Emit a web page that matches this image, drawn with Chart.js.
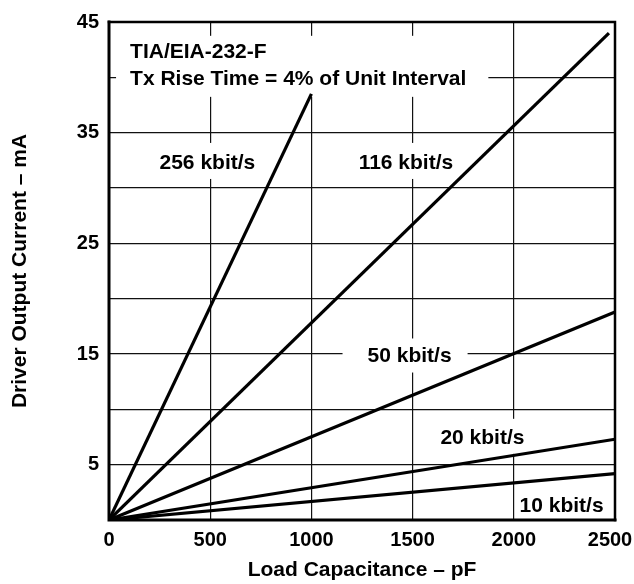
<!DOCTYPE html>
<html><head><meta charset="utf-8">
<script src="https://cdn.jsdelivr.net/npm/chart.js@4.4.1/dist/chart.umd.min.js"></script>
<style>html,body{margin:0;padding:0;background:#fff;overflow:hidden}canvas{display:block}</style>
</head><body>
<canvas id="c" width="634" height="584"></canvas>
<script>
// ---- data ----
const seriesNames = ['256 kbit/s', '116 kbit/s', '50 kbit/s', '20 kbit/s', '10 kbit/s'];
const startCapacitance = [0, 0, 0, 0, 0];
const startCurrent = [0, 0, 0, 0, 0];
const endCapacitance = [1000, 2470, 2500, 2500, 2500];
const endCurrent = [38.5, 44.0, 18.8, 7.3, 4.2];
const xTickLabels = [0, 500, 1000, 1500, 2000, 2500];
const yTickLabels = [5, 15, 25, 35, 45];
const noteTexts = ['TIA/EIA-232-F', 'Tx Rise Time = 4% of Unit Interval'];
const xAxisTitle = 'Load Capacitance – pF';
const yAxisTitle = 'Driver Output Current – mA';

// ---- presentation ----
const FONT = '"Liberation Sans", Arial, Helvetica, sans-serif';
const LABEL_SIZE = 21;
// text anchors (data coordinates) and white knock-out padding [left, right, top, bottom]
const labelPlacement = [
  { text: noteTexts[0], x: 104, y: 42.4, align: 'left', box: null },
  { text: noteTexts[1], x: 104, y: 40.0, align: 'left', box: [14, 22, 34, 12] },
  { text: seriesNames[0], x: 486, y: 32.4, align: 'center', box: [8, 8, 11, 10] },
  { text: seriesNames[1], x: 1467, y: 32.4, align: 'center', box: [8, 8, 11, 10] },
  { text: seriesNames[2], x: 1485, y: 15.0, align: 'center', box: [25, 16, 8, 11] },
  { text: seriesNames[3], x: 1845, y: 7.56, align: 'center', box: [8, 8, 10, 10] },
  { text: seriesNames[4], x: 2236, y: 1.38, align: 'center', box: [4, 4, 6, 3] }
];

const datasets = seriesNames.map((name, i) => ({
  label: name,
  data: [
    { x: startCapacitance[i], y: startCurrent[i] },
    { x: endCapacitance[i], y: endCurrent[i] }
  ],
  showLine: true,
  borderColor: '#000',
  borderWidth: 3.2,
  pointRadius: 0,
  borderCapStyle: 'butt',
  fill: false
}));

const labelsPlugin = {
  id: 'labelsPlugin',
  beforeDatasetsDraw(chart) {
    const { ctx, scales: { x, y } } = chart;
    ctx.save();
    ctx.font = 'bold ' + LABEL_SIZE + 'px ' + FONT;
    const cap = 0.716 * LABEL_SIZE;
    const items = labelPlacement.map(l => {
      const px = x.getPixelForValue(l.x), py = y.getPixelForValue(l.y);
      const w = ctx.measureText(l.text).width;
      const left = l.align === 'left' ? px : px - w / 2;
      const base = py + cap / 2;
      return { l, left, base, w };
    });
    ctx.fillStyle = '#fff';
    items.forEach(({ l, left, base, w }) => {
      if (!l.box) return;
      const b = l.box;
      ctx.fillRect(left - b[0], base - cap - b[2], w + b[0] + b[1], cap + b[2] + b[3]);
    });
    ctx.fillStyle = '#000';
    ctx.textAlign = 'left';
    ctx.textBaseline = 'alphabetic';
    items.forEach(({ l, left, base }) => ctx.fillText(l.text, left, base));
    ctx.restore();
  },
  afterDatasetsDraw(chart) {
    const { ctx, chartArea: a } = chart;
    ctx.save();
    ctx.strokeStyle = '#000';
    ctx.lineCap = 'square';
    ctx.lineWidth = 2.5;
    ctx.beginPath();
    ctx.moveTo(a.left, a.top); ctx.lineTo(a.right, a.top); ctx.lineTo(a.right, a.bottom);
    ctx.stroke();
    ctx.lineWidth = 3;
    ctx.beginPath();
    ctx.moveTo(a.left, a.top); ctx.lineTo(a.left, a.bottom); ctx.lineTo(a.right, a.bottom);
    ctx.stroke();
    ctx.restore();
  }
};

const lastX = xTickLabels[xTickLabels.length - 1];

new Chart(document.getElementById('c'), {
  type: 'scatter',
  data: { datasets },
  plugins: [labelsPlugin],
  options: {
    responsive: false,
    animation: false,
    devicePixelRatio: 1,
    layout: { padding: { top: 14, right: 19, left: 0, bottom: 0 } },
    plugins: { legend: { display: false }, tooltip: { enabled: false } },
    scales: {
      x: {
        type: 'linear', min: 0, max: 2500,
        ticks: {
          stepSize: 500, color: '#000', padding: 8,
          font: { family: FONT, size: 20, weight: 'bold' },
          // the last label sits flush with the page edge, as in the reference
          callback: v => (xTickLabels.includes(v) ? (v === lastX ? String(v) + '\u2002' : String(v)) : '')
        },
        grid: { color: '#111', lineWidth: 1.2, drawTicks: false },
        border: { display: false },
        title: { display: true, text: xAxisTitle, color: '#000', padding: { top: 0, bottom: 1 },
                 font: { family: FONT, size: 21, weight: 'bold' } },
        afterFit(scale) { scale.height = 64; scale.paddingRight = 0; scale.paddingLeft = 0; }
      },
      y: {
        type: 'linear', min: 0, max: 45,
        ticks: {
          stepSize: 5, color: '#000', padding: 10,
          font: { family: FONT, size: 20, weight: 'bold' },
          callback: v => (yTickLabels.includes(v) ? String(v) : '')
        },
        grid: { color: '#111', lineWidth: 1.2, drawTicks: false },
        border: { display: false },
        title: { display: true, text: yAxisTitle, color: '#000', padding: { top: 8, bottom: 0 },
                 font: { family: FONT, size: 21, weight: 'bold' } },
        afterFit(scale) { scale.width = 109; }
      }
    }
  }
});
</script>
</body></html>
